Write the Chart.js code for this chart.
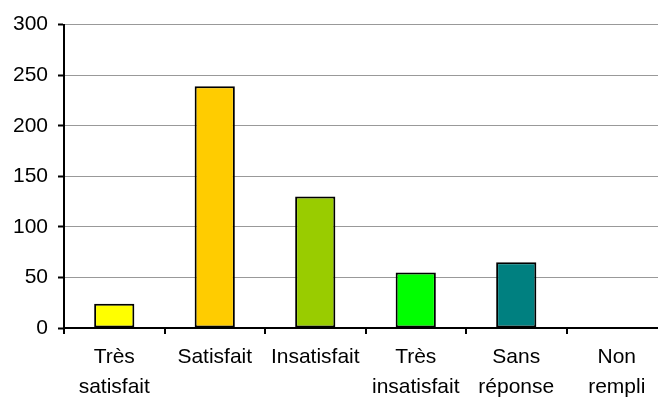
<!DOCTYPE html>
<html>
<head>
<meta charset="utf-8">
<script src="https://cdn.jsdelivr.net/npm/chart.js@4"></script>
<style>
  html, body { margin: 0; padding: 0; background: #fff; overflow: hidden; }
</style>
</head>
<body>
<canvas id="chart" width="667" height="398"></canvas>
<script>
// Données du graphique
const categories = [
    ['Très', 'satisfait'],
    'Satisfait',
    'Insatisfait',
    ['Très', 'insatisfait'],
    ['Sans', 'réponse'],
    ['Non', 'rempli']
];
const reponses = [24, 239, 130, 55, 65, 0];
const couleurs = ['#ffff00', '#ffcc00', '#99cc00', '#00ff00', '#008080', '#cccccc'];
const yTicks = [0, 50, 100, 150, 200, 250, 300];

const font = { family: "'Liberation Sans', Arial, sans-serif", size: 21, lineHeight: 1.4 };

new Chart(document.getElementById('chart'), {
    type: 'bar',
    data: {
        labels: categories,
        datasets: [{
            data: reponses,
            backgroundColor: couleurs,
            borderColor: '#000',
            borderWidth: 2,
            borderSkipped: false,
            barPercentage: 0.4,
            categoryPercentage: 1
        }]
    },
    options: {
        responsive: false,
        animation: false,
        layout: { padding: { top: 24, left: 0, right: 0, bottom: 0 } },
        plugins: {
            legend: { display: false },
            tooltip: { enabled: false }
        },
        scales: {
            x: {
                afterFit: (scale) => { scale.height = 70; },
                border: { color: '#000', width: 2 },
                grid: {
                    drawOnChartArea: false,
                    drawTicks: true,
                    tickLength: 6,
                    color: '#000',
                    lineWidth: 2
                },
                ticks: {
                    color: '#000',
                    font: font,
                    padding: 9,
                    maxRotation: 0,
                    autoSkip: false
                }
            },
            y: {
                min: 0,
                max: 300,
                afterFit: (scale) => { scale.width = 64; },
                afterBuildTicks: (scale) => { scale.ticks = yTicks.map(v => ({ value: v })); },
                border: { color: '#000', width: 2 },
                grid: {
                    color: '#999',
                    lineWidth: 1,
                    tickLength: 6,
                    tickColor: '#000',
                    tickWidth: 2
                },
                ticks: {
                    color: '#000',
                    font: font,
                    padding: 10
                }
            }
        }
    }
});
</script>
</body>
</html>
